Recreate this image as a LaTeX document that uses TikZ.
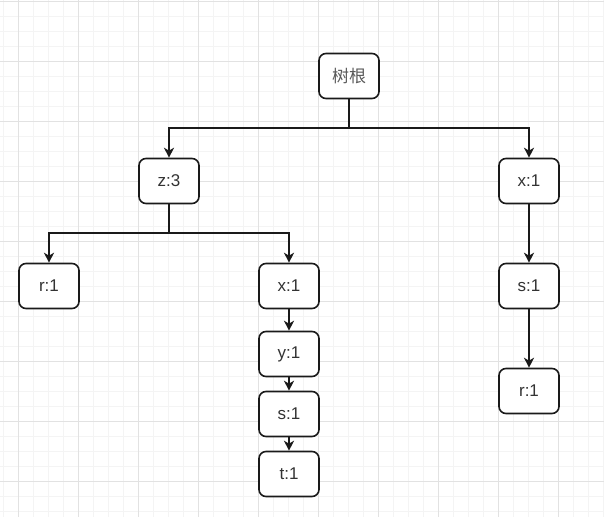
\documentclass[tikz,border=0pt]{standalone}
\usepackage{fontspec}
\setmainfont{Liberation Sans}
\newfontfamily\cjk{Noto Sans CJK SC}
\usetikzlibrary{arrows.meta}
\definecolor{minorgrid}{HTML}{F4F4F4}
\definecolor{majorgrid}{HTML}{E2E2E2}
\definecolor{edgecol}{HTML}{1A1A1A}
\definecolor{txtcol}{HTML}{333333}
\tikzset{
  treebox/.style={draw=edgecol, line width=1.6pt, rounded corners=7pt, fill=white,
    minimum width=60pt, minimum height=45pt, inner sep=0pt,
    font=\fontsize{17}{20}\selectfont, text=txtcol},
  link/.style={draw=edgecol, line width=1.6pt},
  arr/.style={link, -{Stealth[length=10pt,width=10pt,inset=3pt]}}
}
\begin{document}
\begin{tikzpicture}[x=1pt,y=-1pt]
\useasboundingbox (0,0) rectangle (604,517);
\fill[white] (0,0) rectangle (604,517);
% grid
\foreach \i in {0,...,41} {
  \draw[minorgrid, line width=0.8pt] ({3+15*\i},0) -- ({3+15*\i},517);
}
\foreach \j in {0,...,35} {
  \draw[minorgrid, line width=0.8pt] (0,{1+15*\j}) -- (604,{1+15*\j});
}
\foreach \i in {0,...,10} {
  \draw[majorgrid, line width=0.8pt] ({18+60*\i},0) -- ({18+60*\i},517);
}
\foreach \j in {0,...,8} {
  \draw[majorgrid, line width=0.8pt] (0,{1+60*\j}) -- (604,{1+60*\j});
}
% nodes
\node[treebox, font=\cjk\fontsize{17}{20}\selectfont, text=black!65] (root) at (349,76) {树根};
\node[treebox] (z) at (169,181) {z:3};
\node[treebox] (xr) at (529,181) {x:1};
\node[treebox] (rl) at (49,286) {r:1};
\node[treebox] (xm) at (289,286) {x:1};
\node[treebox] (ym) at (289,354) {y:1};
\node[treebox] (sm) at (289,414) {s:1};
\node[treebox] (tm) at (289,474) {t:1};
\node[treebox] (sr) at (529,286) {s:1};
\node[treebox] (rr) at (529,391) {r:1};
% connectors
\coordinate (j1) at (349,128);
\coordinate (j2) at (169,233);
\draw[arr] (root.south) -- (j1) -| (z.north);
\draw[arr] (root.south) -- (j1) -| (xr.north);
\draw[arr] (z.south) -- (j2) -| (rl.north);
\draw[arr] (z.south) -- (j2) -| (xm.north);
\draw[arr] (xm) -- (ym);
\draw[arr] (ym) -- (sm);
\draw[arr] (sm) -- (tm);
\draw[arr] (xr) -- (sr);
\draw[arr] (sr) -- (rr);
\end{tikzpicture}
\end{document}
